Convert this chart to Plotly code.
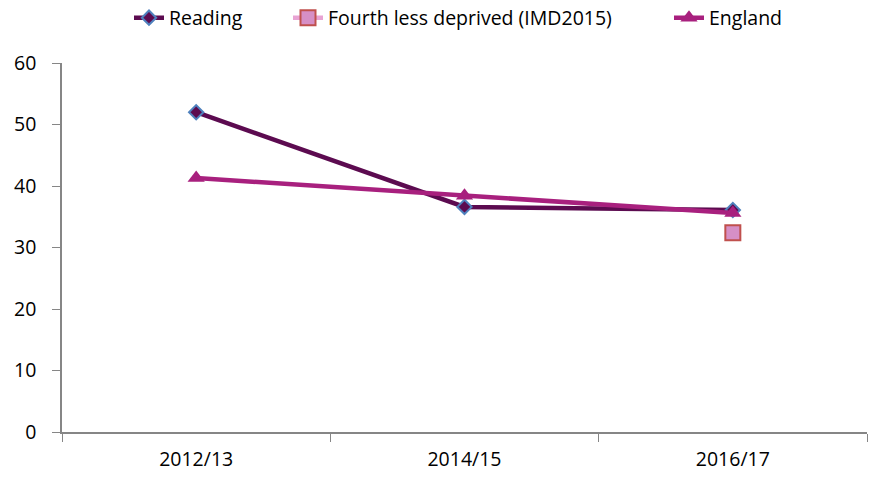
import plotly.graph_objects as go

categories = ["2012/13", "2014/15", "2016/17"]
reading = [52.0, 36.6, 36.1]
fourth_less = [None, None, 32.4]
england = [41.3, 38.4, 35.6]

font_family = "Open Sans, Liberation Sans, sans-serif"

W, H = 877, 477
L, R, T, B = 62, 10, 63, 45
pw, ph = W - L - R, H - T - B


def px_to_paper_x(px):
    return (px - L) / pw


def px_to_paper_y(py):
    return (H - B - py) / ph


fig = go.Figure()
fig.add_trace(go.Scatter(
    x=categories, y=reading, name="Reading", mode="lines+markers",
    line=dict(color="#5C0B50", width=4.5),
    marker=dict(symbol="diamond", size=11, color="#5C0B50",
                line=dict(color="#4F81BD", width=2)),
    legend="legend",
))
fig.add_trace(go.Scatter(
    x=categories, y=fourth_less, name="Fourth less deprived (IMD2015)", mode="lines+markers",
    line=dict(color="#E8A3D3", width=4.5),
    marker=dict(symbol="square", size=15, color="#D68FC6",
                line=dict(color="#C0504D", width=2)),
    legend="legend2",
))
fig.add_trace(go.Scatter(
    x=categories, y=england, name="England", mode="lines+markers",
    line=dict(color="#A8207E", width=4.5),
    marker=dict(symbol="triangle-up", size=15, color="#A8207E"),
    legend="legend3",
))

leg_common = dict(orientation="h", yanchor="middle", xanchor="left",
                  y=px_to_paper_y(18), font=dict(size=19.5), bgcolor="rgba(0,0,0,0)")

fig.update_layout(
    width=W, height=H,
    margin=dict(l=L, r=R, t=T, b=B, autoexpand=False),
    plot_bgcolor="white", paper_bgcolor="white",
    font=dict(family=font_family, size=19.5, color="#000000"),
    showlegend=True,
    hovermode=False,
    legend=dict(x=px_to_paper_x(129), **leg_common),
    legend2=dict(x=px_to_paper_x(288), **leg_common),
    legend3=dict(x=px_to_paper_x(669), **leg_common),
    xaxis=dict(
        type="category", range=[-0.5, 2.5],
        showline=True, linecolor="#868686", linewidth=1.5,
        ticks="outside", tickson="boundaries", ticklen=8, tickcolor="#868686",
        ticklabelstandoff=9,
        showgrid=False, zeroline=False, automargin=False,
    ),
    yaxis=dict(
        range=[0, 60], dtick=10,
        showline=True, linecolor="#868686", linewidth=1.5,
        ticks="outside", ticklen=8, tickcolor="#868686",
        ticklabelstandoff=12,
        showgrid=False, zeroline=False, automargin=False,
    ),
)

fig.write_html("out.html", config={"displayModeBar": False},
               post_script="document.body.style.margin='0';")
